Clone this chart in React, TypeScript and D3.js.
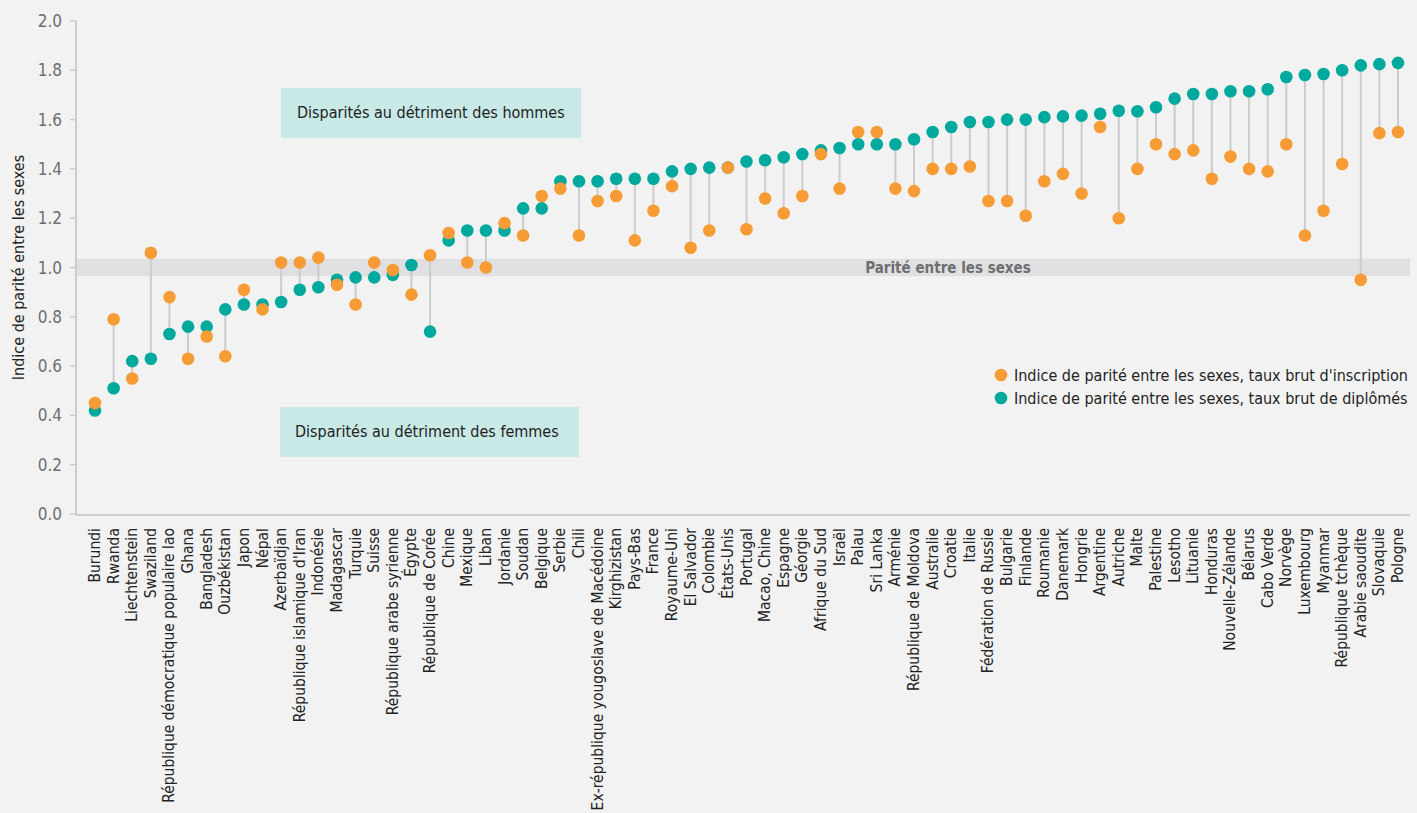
import React from 'react';
import * as d3 from 'd3';

const countries = [
  'Burundi', 'Rwanda', 'Liechtenstein', 'Swaziland', 'République démocratique populaire lao',
  'Ghana', 'Bangladesh', 'Ouzbékistan', 'Japon', 'Népal', 'Azerbaïdjan',
  "République islamique d'Iran", 'Indonésie', 'Madagascar', 'Turquie', 'Suisse',
  'République arabe syrienne', 'Égypte', 'République de Corée', 'Chine', 'Mexique', 'Liban',
  'Jordanie', 'Soudan', 'Belgique', 'Serbie', 'Chili', 'Ex-république yougoslave de Macédoine',
  'Kirghizistan', 'Pays-Bas', 'France', 'Royaume-Uni', 'El Salvador', 'Colombie', 'États-Unis',
  'Portugal', 'Macao, Chine', 'Espagne', 'Géorgie', 'Afrique du Sud', 'Israël', 'Palau',
  'Sri Lanka', 'Arménie', 'République de Moldova', 'Australie', 'Croatie', 'Italie',
  'Fédération de Russie', 'Bulgarie', 'Finlande', 'Roumanie', 'Danemark', 'Hongrie',
  'Argentine', 'Autriche', 'Malte', 'Palestine', 'Lesotho', 'Lituanie', 'Honduras',
  'Nouvelle-Zélande', 'Bélarus', 'Cabo Verde', 'Norvège', 'Luxembourg', 'Myanmar',
  'République tchèque', 'Arabie saoudite', 'Slovaquie', 'Pologne',
];

// indice de parité, taux brut d'inscription
const enrolment = [
  0.45, 0.79, 0.55, 1.06, 0.88, 0.63, 0.72, 0.64, 0.91, 0.83, 1.02,
  1.02, 1.04, 0.93, 0.85, 1.02, 0.99, 0.89, 1.05, 1.14, 1.02, 1.0,
  1.18, 1.13, 1.29, 1.32, 1.13, 1.27, 1.29, 1.11, 1.23, 1.33, 1.08,
  1.15, 1.405, 1.155, 1.28, 1.22, 1.29, 1.46, 1.32, 1.55, 1.55,
  1.32, 1.31, 1.4, 1.4, 1.41, 1.27, 1.27, 1.21, 1.35, 1.38, 1.3,
  1.57, 1.2, 1.4, 1.5, 1.46, 1.475, 1.36, 1.45, 1.4, 1.39, 1.5,
  1.13, 1.23, 1.42, 0.95, 1.545, 1.55,
];

// indice de parité, taux brut de diplômés
const graduates = [
  0.42, 0.51, 0.62, 0.63, 0.73, 0.76, 0.76, 0.83, 0.85, 0.85, 0.86,
  0.91, 0.92, 0.95, 0.96, 0.96, 0.97, 1.01, 0.74, 1.11, 1.15, 1.15,
  1.15, 1.24, 1.24, 1.35, 1.35, 1.35, 1.36, 1.36, 1.36, 1.39, 1.4,
  1.405, 1.405, 1.43, 1.435, 1.447, 1.46, 1.475, 1.485, 1.5, 1.5,
  1.5, 1.52, 1.55, 1.57, 1.59, 1.59, 1.6, 1.6, 1.61, 1.613, 1.616,
  1.624, 1.636, 1.634, 1.65, 1.685, 1.704, 1.704, 1.715, 1.715, 1.723, 1.773,
  1.781, 1.785, 1.8, 1.82, 1.825, 1.83,
];

const yTicks = [0, 0.2, 0.4, 0.6, 0.8, 1.0, 1.2, 1.4, 1.6, 1.8, 2.0];

const ORANGE = '#f79c34';
const TEAL = '#00a99d';
const FONT = "'DejaVu Sans Condensed', 'Liberation Sans Narrow', sans-serif";

const App = () => {
  const W = 1417;
  const H = 813;
  const left = 76;
  const right = 1410;
  const top = 21;
  const bottom = 514;

  const x = d3.scalePoint<string>().domain(countries).range([95, 1398]);
  const y = d3.scaleLinear().domain([0, 2]).range([bottom, top]);

  return (
    <svg
      width={W}
      height={H}
      style={{ position: 'absolute', left: 0, top: 0, fontFamily: FONT }}
    >
      <rect width={W} height={H} fill="#f2f2f2" />

      {/* bande de parité */}
      <rect x={left} y={y(1.035)} width={right - left} height={y(0.965) - y(1.035)} fill="#e0e0e2" />
      <text x={948} y={y(1) + 5} textAnchor="middle" fontSize={15} fontWeight="bold" fill="#6d6e71">
        Parité entre les sexes
      </text>

      {/* axes */}
      <line x1={left} x2={left} y1={top} y2={bottom + 1} stroke="#cccccc" strokeWidth={2} />
      <line x1={left} x2={right} y1={bottom + 1} y2={bottom + 1} stroke="#cccccc" strokeWidth={2} />
      {yTicks.map((t) => (
        <g key={t}>
          <line x1={left - 6} x2={left} y1={y(t)} y2={y(t)} stroke="#cccccc" strokeWidth={1.5} />
          <text x={62} y={y(t) + 6} textAnchor="end" fontSize={17} fill="#6d6e71">
            {t.toFixed(1)}
          </text>
        </g>
      ))}
      <text
        transform={`translate(24,${(top + bottom) / 2}) rotate(-90)`}
        textAnchor="middle"
        fontSize={16}
        fill="#222"
      >
        Indice de parité entre les sexes
      </text>

      {/* annotations */}
      <rect x={281} y={88} width={300} height={50} fill="#c8e9e6" />
      <text x={297} y={118} fontSize={16} fill="#222">Disparités au détriment des hommes</text>
      <rect x={280} y={407} width={299} height={50} fill="#c8e9e6" />
      <text x={295} y={437} fontSize={16} fill="#222">Disparités au détriment des femmes</text>

      {/* tiges */}
      {countries.map((c, i) => (
        <line
          key={c}
          x1={x(c)}
          x2={x(c)}
          y1={y(enrolment[i])}
          y2={y(graduates[i])}
          stroke="#cccccc"
          strokeWidth={2}
        />
      ))}
      {countries.map((c, i) => (
        <circle key={c} cx={x(c)} cy={y(graduates[i])} r={6.3} fill={TEAL} />
      ))}
      {countries.map((c, i) => (
        <circle key={c} cx={x(c)} cy={y(enrolment[i])} r={6.3} fill={ORANGE} />
      ))}

      {/* étiquettes */}
      {countries.map((c) => (
        <text
          key={c}
          transform={`translate(${(x(c) ?? 0) + 5},${bottom + 14}) rotate(-90)`}
          textAnchor="end"
          fontSize={15.5}
          fill="#222"
        >
          {c}
        </text>
      ))}

      {/* légende */}
      <circle cx={1001} cy={375} r={6.3} fill={ORANGE} />
      <text x={1014} y={381} fontSize={16} fill="#222">
        Indice de parité entre les sexes, taux brut d'inscription
      </text>
      <circle cx={1001} cy={398} r={6.3} fill={TEAL} />
      <text x={1014} y={404} fontSize={16} fill="#222">
        Indice de parité entre les sexes, taux brut de diplômés
      </text>
    </svg>
  );
};

export default App;
